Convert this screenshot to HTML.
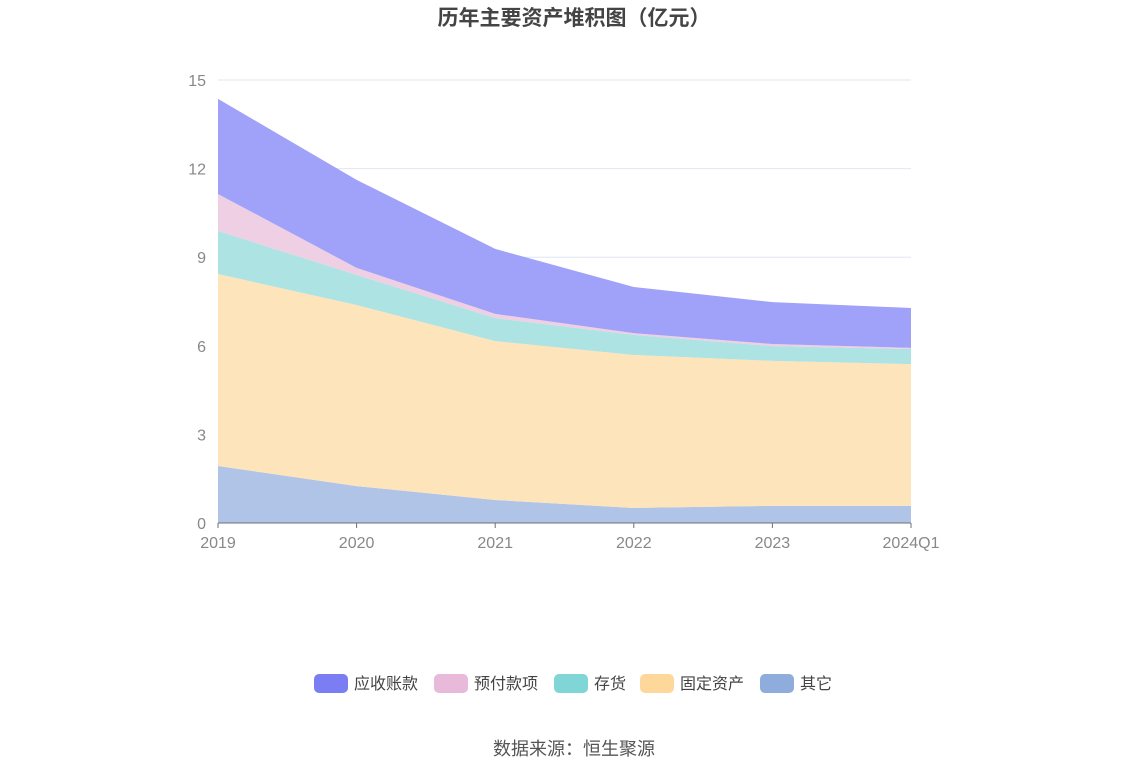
<!DOCTYPE html>
<html><head><meta charset="utf-8">
<style>
body{margin:0;background:#fff;font-family:"Liberation Sans","Noto Sans CJK SC",sans-serif;}
#wrap{position:relative;width:1148px;height:776px;overflow:hidden;}
</style></head>
<body>
<div id="wrap">
<svg id="chart" width="1148" height="776" xmlns="http://www.w3.org/2000/svg">
<text x="574" y="25" text-anchor="middle" font-size="21" font-weight="bold" fill="#444" font-family="Liberation Sans, Noto Sans CJK SC, sans-serif">历年主要资产堆积图（亿元）</text>
<g id="grid"></g>
<g id="areas"></g>
<g id="axes"></g>
<g id="legend"></g>
<text x="574" y="755" text-anchor="middle" font-size="18" fill="#555" font-family="Liberation Sans, Noto Sans CJK SC, sans-serif">数据来源：恒生聚源</text>
</svg>
</div>
<script>
const categories = ["2019","2020","2021","2022","2023","2024Q1"];
const seriesNames = ["其它","固定资产","存货","预付款项","应收账款"];
const otherVals = [1.93,1.25,0.78,0.51,0.58,0.58];
const fixedVals = [6.50,6.13,5.38,5.18,4.91,4.80];
const inventoryVals = [1.46,1.02,0.78,0.68,0.50,0.51];
const prepayVals = [1.25,0.24,0.14,0.06,0.07,0.04];
const receivableVals = [3.22,2.98,2.20,1.56,1.42,1.35];
const yTicks = [0,3,6,9,12,15];

const NS="http://www.w3.org/2000/svg";
const x0=218,x1=911,yBase=523,yTop=80,yMax=15;
const xs=i=>x0+(x1-x0)*i/(categories.length-1);
const ys=v=>yBase-(yBase-yTop)*v/yMax;
const fills=["#afc4e6","#fde4bb","#ade3e3","#efcfe3","#a0a1f8"];
const legendColors=["#8eaddc","#fed89b","#80d6d6","#e8b9d9","#7b7ef2"];
const series=[otherVals,fixedVals,inventoryVals,prepayVals,receivableVals];
const names=["area-other","area-fixed-assets","area-inventory","area-prepayments","area-receivables"];
function mk(tag,attrs,parent){const e=document.createElementNS(NS,tag);for(const k in attrs)e.setAttribute(k,attrs[k]);parent.appendChild(e);return e;}

const grid=document.getElementById('grid');
yTicks.forEach(t=>{
  if(t>0){const l=mk('line',{x1:x0,x2:x1,y1:ys(t),y2:ys(t),stroke:'#e0e6f1','stroke-width':1},grid);
  
  }
  const tx=mk('text',{x:206,y:ys(t)+6,'text-anchor':'end','font-size':16,fill:'#888'},grid);
  tx.textContent=t;
  
  
});

const areas=document.getElementById('areas');
let cum=categories.map(()=>0);
series.forEach((vals,s)=>{
  const lower=cum.slice();
  const upper=cum.map((c,i)=>c+vals[i]);
  let d='M'+categories.map((_,i)=>xs(i)+','+ys(upper[i])).join(' L');
  for(let i=categories.length-1;i>=0;i--) d+=' L'+xs(i)+','+ys(lower[i]);
  d+=' Z';
  const p=mk('path',{d:d,fill:fills[s],stroke:'none'},areas);
  
  
  cum=upper;
});

const axes=document.getElementById('axes');
const ax=mk('line',{x1:x0,x2:x1,y1:yBase,y2:yBase,stroke:'#6e7079','stroke-width':1},axes);


categories.forEach((c,i)=>{
  const tk=mk('line',{x1:xs(i),x2:xs(i),y1:yBase,y2:yBase+5,stroke:'#6e7079'},axes);
  
  
  const t=mk('text',{x:xs(i),y:548,'text-anchor':'middle','font-size':16,fill:'#888'},axes);
  t.textContent=c;
  
  
});

const legend=document.getElementById('legend');
const order=[4,3,2,1,0];
const widths=[34+6+68,34+6+68,34+6+34,34+6+68,34+6+34];
const gap=12;
let total=widths.reduce((a,b)=>a+b,0)+gap*4;
let lx=574-total/2;
order.forEach((s,k)=>{
  const g=mk('g',{},legend);
  
  
  mk('rect',{x:lx,y:674,width:34,height:19,rx:5,fill:legendColors[s]},g);
  const t=mk('text',{x:lx+40,y:689,'font-size':16,fill:'#444'},g);
  t.textContent=seriesNames[s];
  lx+=widths[k]+gap;
});
</script>
</body></html>
